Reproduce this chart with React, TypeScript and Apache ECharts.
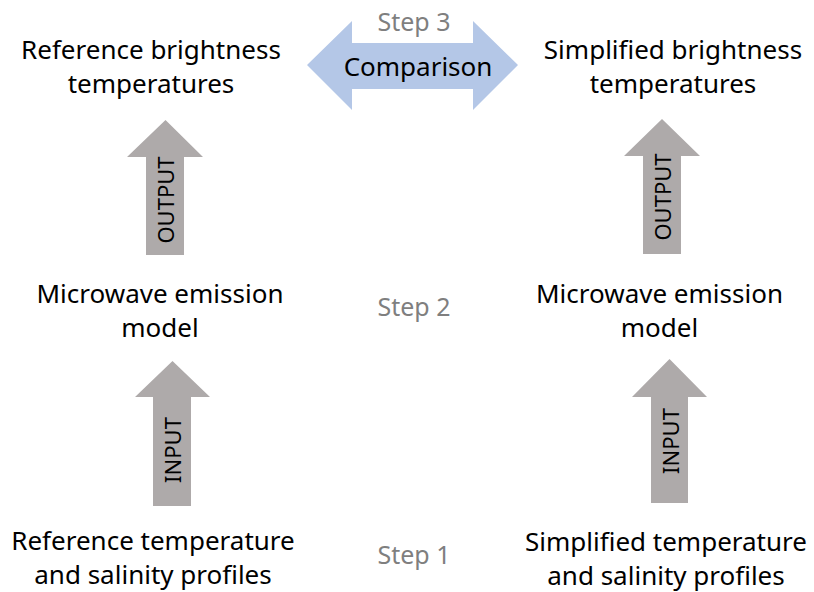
import React, { useEffect, useRef } from "react";
import * as echarts from "echarts";

// Labels of the diagram
const boxLabels = [
  "Reference brightness\ntemperatures",
  "Simplified brightness\ntemperatures",
  "Microwave emission\nmodel",
  "Microwave emission\nmodel",
  "Reference temperature\nand salinity profiles",
  "Simplified temperature\nand salinity profiles",
];
const stepLabels = ["Step 3", "Step 2", "Step 1"];
const compareLabel = "Comparison";
const arrowLabels = ["OUTPUT", "OUTPUT", "INPUT", "INPUT"];

// layout (positions only)
const boxPos = [
  [151, 66],
  [673, 65.5],
  [160, 309.5],
  [659.5, 309.5],
  [153, 557],
  [666, 557.5],
];
const stepPos = [
  [414, 21],
  [414, 306],
  [414, 554],
];
// up arrows: tipX, tipY, headLeft, headRight, headBaseY, shaftLeft, shaftRight, bottomY, labelY
const upArrows = [
  [165.5, 120, 127, 203, 157, 146, 184, 255, 200],
  [662, 119, 624, 700, 156, 643, 681, 254, 197],
  [172.5, 361, 135, 210, 397, 153, 191, 506, 450],
  [669.5, 359, 632, 707, 397, 651, 688, 503, 441],
];

const FONT = '"Noto Sans", sans-serif';
const GRAY = "#AEAAAA";
const BLUE = "#B4C7E7";

export default function App() {
  const ref = useRef<HTMLDivElement>(null);
  useEffect(() => {
    document.body.style.margin = "0";
    const chart = echarts.init(ref.current!, undefined, { renderer: "svg" });
    const elements: any[] = [];

    // double arrow
    elements.push({
      type: "polygon",
      shape: {
        points: [
          [307, 65],
          [352, 21],
          [352, 43],
          [473, 43],
          [473, 21],
          [518, 65],
          [473, 110],
          [473, 89],
          [352, 89],
          [352, 110],
        ],
      },
      style: { fill: BLUE },
    });

    upArrows.forEach((a, i) => {
      const [tx, ty, hl, hr, hb, sl, sr, by, ly] = a;
      elements.push({
        type: "polygon",
        shape: {
          points: [
            [tx, ty],
            [hr, hb],
            [sr, hb],
            [sr, by],
            [sl, by],
            [sl, hb],
            [hl, hb],
          ],
        },
        style: { fill: GRAY },
      });
      elements.push({
        type: "text",
        x: (sl + sr) / 2,
        y: ly,
        rotation: Math.PI / 2,
        style: {
          text: arrowLabels[i],
          x: 0,
          y: 0,
          fill: "#000",
          font: `22px ${FONT}`,
          align: "center",
          verticalAlign: "middle",
        },
      });
    });

    boxLabels.forEach((t, i) => {
      elements.push({
        type: "text",
        style: {
          text: t,
          x: boxPos[i][0],
          y: boxPos[i][1],
          fill: "#000",
          font: `26px ${FONT}`,
          lineHeight: 34,
          align: "center",
          verticalAlign: "middle",
        },
      });
    });

    stepLabels.forEach((t, i) => {
      elements.push({
        type: "text",
        style: {
          text: t,
          x: stepPos[i][0],
          y: stepPos[i][1],
          fill: "#7F7F7F",
          font: `25px ${FONT}`,
          align: "center",
          verticalAlign: "middle",
        },
      });
    });

    elements.push({
      type: "text",
      style: {
        text: compareLabel,
        x: 418,
        y: 66,
        fill: "#000",
        font: `26px ${FONT}`,
        align: "center",
        verticalAlign: "middle",
      },
    });

    chart.setOption({
      animation: false,
      backgroundColor: "#fff",
      graphic: { elements },
    });
    return () => chart.dispose();
  }, []);
  return (
    <div
      ref={ref}
      style={{ position: "absolute", left: 0, top: 0, width: 814, height: 592 }}
    />
  );
}
